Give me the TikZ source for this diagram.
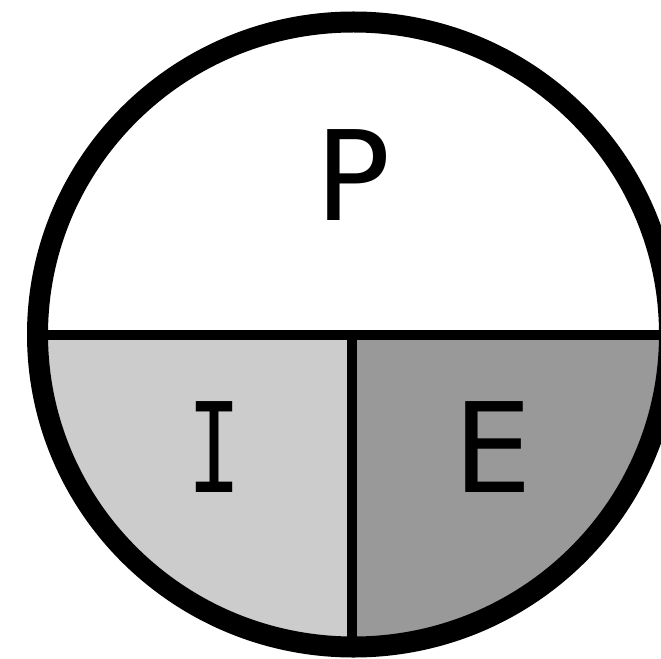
\documentclass[tikz,border=0pt]{standalone}
\usepackage{fontspec}
\setmainfont{DejaVu Sans}
\newfontfamily\monofam{DejaVu Sans Mono}
\begin{document}
\begin{tikzpicture}[x=0.02cm,y=-0.02cm,
  lbl/.style={inner sep=0pt, font=\fontsize{71}{71}\selectfont},
  divider/.style={line width=10*0.02cm, draw=black},
  rim/.style={line width=21*0.02cm, draw=black}]
\useasboundingbox (0,0) rectangle (661,658);
\fill[white] (0,0) rectangle (661,658);
\coordinate (c) at (353.5,334.5);
\begin{scope}
  \clip (c) ellipse [x radius=316, y radius=312.5];
  \fill[black!40] (352,335) rectangle (700,700);
  \fill[black!20] (0,335) rectangle (352,700);
  \draw[divider] (0,335) -- (700,335);
  \draw[divider] (352,335) -- (352,700);
\end{scope}
\draw[rim] (c) ellipse [x radius=316, y radius=312.5];
\node[lbl] (p) at (353,175) {P};
\node[lbl] (i) at (215,447) {\scalebox{0.72}[1]{\monofam I}};
\node[lbl] (e) at (493,447) {E};
\end{tikzpicture}
\end{document}
